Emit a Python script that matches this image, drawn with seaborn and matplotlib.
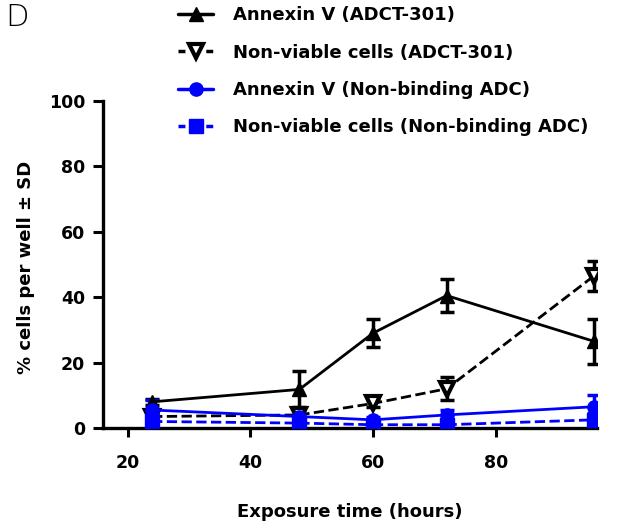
import numpy as np
import pandas as pd
import matplotlib
matplotlib.use("Agg")
import matplotlib.pyplot as plt
import seaborn as sns

# ---- data ----
hours = [24, 48, 60, 72, 96]
annexin_adct = [8.0, 11.8, 29.0, 40.5, 26.5]
annexin_adct_sd = [1.0, 5.5, 4.2, 5.0, 6.8]
nonviable_adct = [3.5, 4.0, 7.5, 12.0, 46.5]
nonviable_adct_sd = [1.0, 1.5, 1.2, 3.5, 4.5]
annexin_nb = [5.5, 3.5, 2.5, 4.0, 6.5]
annexin_nb_sd = [3.0, 2.5, 1.0, 1.5, 3.5]
nonviable_nb = [2.0, 1.5, 1.0, 1.0, 2.5]
nonviable_nb_sd = [1.5, 1.5, 0.5, 0.5, 2.0]

labels = ["Annexin V (ADCT-301)", "Non-viable cells (ADCT-301)",
          "Annexin V (Non-binding ADC)", "Non-viable cells (Non-binding ADC)"]
x_ticks = [20, 40, 60, 80]
y_ticks = [0, 20, 40, 60, 80, 100]

sns.set_style("ticks")
plt.rcParams['font.family'] = ['DejaVu Sans']
plt.rcParams['font.weight'] = 'bold'
for k in ['text.color', 'axes.labelcolor', 'xtick.color', 'ytick.color', 'axes.edgecolor']:
    plt.rcParams[k] = 'black'

fig = plt.figure(figsize=(6.2, 5.26), dpi=100)
ax = fig.add_axes([103/620, 1-428/526, (597-103)/620, (428-101)/526])

series = [
    (annexin_adct, annexin_adct_sd, 'black', '^', (None, None), '-'),
    (nonviable_adct, nonviable_adct_sd, 'black', 'v', (4, 3), '--'),
    (annexin_nb, annexin_nb_sd, '#0000ff', 'o', (None, None), '-'),
    (nonviable_nb, nonviable_nb_sd, '#0000ff', 's', (3, 2.5), '--'),
]

handles = []
for (vals, sd, col, mk, dsh, ls), lab in zip(series, labels):
    df = pd.DataFrame({"x": hours, "y": vals})
    ax.errorbar(hours, vals, yerr=sd, fmt='none', ecolor=col, elinewidth=2.5,
                capsize=5, capthick=2.5, zorder=2)
    mfc = 'white' if mk == 'v' else col
    kw = dict(marker=mk, markersize=9.5, markerfacecolor=mfc, markeredgecolor=col,
              markeredgewidth=3.0 if mk == 'v' else 1)
    if ls == '--':
        kw['dashes'] = dsh
    sns.lineplot(data=df, x="x", y="y", ax=ax, color=col, linewidth=2,
                 linestyle=ls, zorder=3, **kw)
    h, = ax.plot([], [], color=col, linewidth=2.5, linestyle=ls,
                 **({k: v for k, v in kw.items() if k != 'dashes'}),
                 **({'dashes': (2, 2)} if ls == '--' else {}))
    handles.append(h)

ax.set_xlim(16, 96.5)
ax.set_ylim(0, 100)
ax.set_xticks(x_ticks)
ax.set_yticks(y_ticks)
ax.tick_params(axis='both', width=2.2, labelsize=12.5, color='black', labelcolor='black')
ax.tick_params(axis='y', length=7, pad=6)
ax.tick_params(axis='x', length=6.5, pad=12)
for lab in ax.get_xticklabels() + ax.get_yticklabels():
    lab.set_fontweight('bold')
for s in ['top', 'right']:
    ax.spines[s].set_visible(False)
for s in ['left', 'bottom']:
    ax.spines[s].set_linewidth(2.4)
    ax.spines[s].set_color('black')

ax.set_xlabel("Exposure time (hours)", fontsize=13, fontweight='bold', color='black')
ax.set_ylabel("% cells per well ± SD", fontsize=13, fontweight='bold', color='black')
ax.xaxis.set_label_coords(0.5, -0.23)
ax.yaxis.set_label_coords(-0.138, 0.49)

fig.legend(handles=handles, labels=labels, loc='upper left',
           bbox_to_anchor=(178/620, 1-6/526), frameon=False,
           prop={'weight': 'bold', 'size': 13},
           handlelength=1.95, handletextpad=1.1, labelspacing=1.08,
           borderpad=0, borderaxespad=0, labelcolor='black')

fig.text(5/620, 1-26/526, "D", fontsize=22, fontweight='light', color='black',
         va='baseline')

fig.savefig("out.png", dpi=100)
